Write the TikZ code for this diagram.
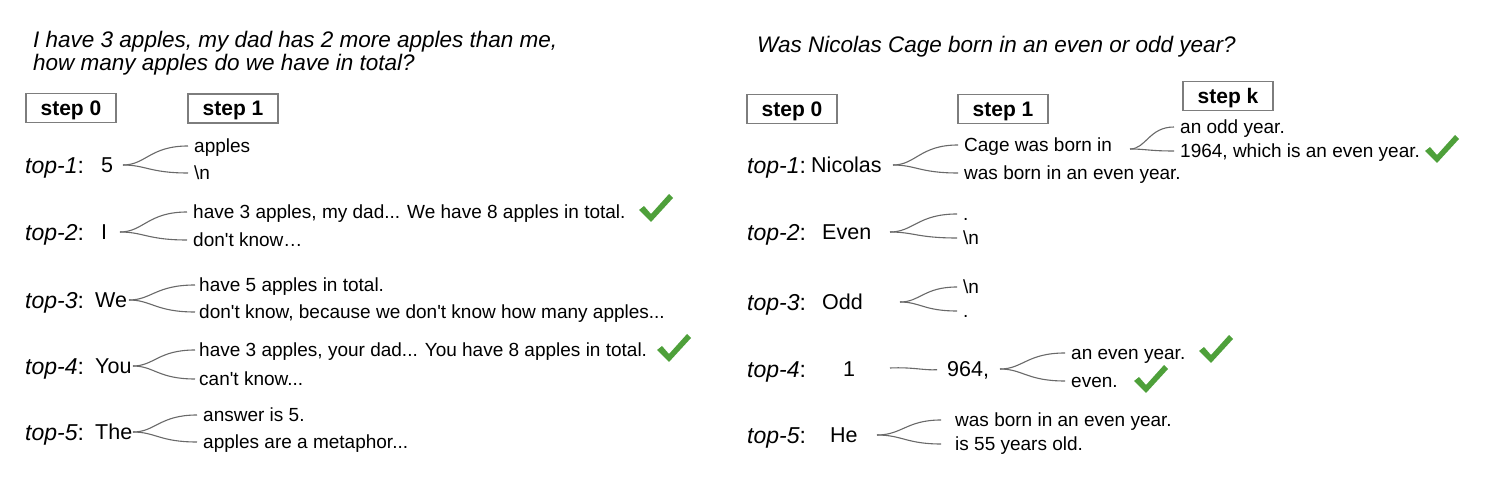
\documentclass[tikz,border=0pt]{standalone}
\usepackage{fontspec}
\setmainfont{Liberation Sans}
\usetikzlibrary{calc}
\definecolor{linegray}{RGB}{105,105,105}
\definecolor{boxgray}{RGB}{125,125,125}
\definecolor{chk}{RGB}{78,160,58}
\begin{document}
\begin{tikzpicture}[x=1pt,y=-1pt,
  txt/.style={anchor=west,inner sep=0pt,font=\fontsize{19}{21}\selectfont,text height=13.6pt,text depth=0pt},
  lab/.style={anchor=west,inner sep=0pt,font=\fontsize{23}{25}\selectfont,text height=16.5pt,text depth=0pt},
  tok/.style={anchor=west,inner sep=0pt,font=\fontsize{21.5}{23}\selectfont,text height=15.4pt,text depth=0pt},
  ques/.style={anchor=west,inner sep=0pt,font=\fontsize{22.5}{24}\selectfont\itshape,text height=16pt,text depth=0pt},
  stepbox/.style={draw=boxgray,line width=1.2pt,minimum width=90pt,minimum height=29pt,inner sep=0pt,font=\fontsize{21}{22}\selectfont\bfseries,text height=15pt,text depth=0pt},
  br/.style={draw=linegray,line width=1.1pt,shorten >=6pt,
    to path={.. controls ($(\tikztostart)!0.32!(\tikztotarget|-\tikztostart)$) and ($(\tikztostart|-\tikztotarget)!0.38!(\tikztotarget)$) .. (\tikztotarget)}},
  chkmark/.pic={\fill[chk] (-17,1) -- (-12,-3) -- (-5,5) -- (13,-15) -- (17,-11) -- (-5,13) -- cycle;}
]
\useasboundingbox (0,0) rectangle (1492,486);

% ---------------- left panel ----------------
\node[ques] (q1) at (33,40) {I have 3 apples, my dad has 2 more apples than me,};
\node[ques] (q2) at (33,63) {how many apples do we have in total?};
\node[stepbox] (ls0) at (71,108) {step 0};
\node[stepbox] (ls1) at (233,108.5) {step 1};

% row 1
\node[lab] (ll1) at (25,165) {\textit{top-1}:};
\node[tok] (lt1) at (101,165) {5};
\coordinate (lj1) at (123,165);
\node[txt] (la1) at (194,146) {apples};
\node[txt] (lb1) at (194,173) {\textbackslash n};
\draw[br] (lj1) to (la1.west);
\draw[br] (lj1) to (lb1.west);

% row 2
\node[lab] (ll2) at (25,232) {\textit{top-2}:};
\node[tok] (lt2) at (101,232) {I};
\coordinate (lj2) at (120,232);
\node[txt] (la2) at (193,212) {have 3 apples, my dad... We have 8 apples in total.};
\node[txt] (lb2) at (193,240) {don\textquotesingle t know…};
\draw[br] (lj2) to (la2.west);
\draw[br] (lj2) to (lb2.west);
\pic at (656,209) {chkmark};

% row 3
\node[lab] (ll3) at (25,300) {\textit{top-3}:};
\node[tok] (lt3) at (95,300) {We};
\coordinate (lj3) at (129,300);
\node[txt] (la3) at (199,285) {have 5 apples in total.};
\node[txt] (lb3) at (199,312) {don\textquotesingle t know, because we don\textquotesingle t know how many apples...};
\draw[br,shorten >=4pt] (lj3) to (la3.west);
\draw[br,shorten >=4pt] (lj3) to (lb3.west);

% row 4
\node[lab] (ll4) at (25,366) {\textit{top-4}:};
\node[tok] (lt4) at (95,366) {You};
\coordinate (lj4) at (133,366);
\node[txt] (la4) at (199,350) {have 3 apples, your dad... You have 8 apples in total.};
\node[txt] (lb4) at (199,379) {can\textquotesingle t know...};
\draw[br,shorten >=4pt] (lj4) to (la4.west);
\draw[br,shorten >=4pt] (lj4) to (lb4.west);
\pic at (674,349) {chkmark};

% row 5
\node[lab] (ll5) at (25,432) {\textit{top-5}:};
\node[tok] (lt5) at (95,432) {The};
\coordinate (lj5) at (133,432);
\node[txt] (la5) at (203,415) {answer is 5.};
\node[txt] (lb5) at (203,442) {apples are a metaphor...};
\draw[br] (lj5) to (la5.west);
\draw[br] (lj5) to (lb5.west);

% ---------------- right panel ----------------
\node[ques] (q3) at (757,45) {Was Nicolas Cage born in an even or odd year?};
\node[stepbox] (rs0) at (792,109) {step 0};
\node[stepbox] (rs1) at (1003,109) {step 1};
\node[stepbox] (rsk) at (1228,96) {step k};

% row 1
\node[lab] (rl1) at (747,165) {\textit{top-1}:};
\node[tok] (rt1) at (811,165) {Nicolas};
\coordinate (rj1) at (893,165);
\node[txt] (ra1) at (964,145) {Cage was born in};
\node[txt] (rb1) at (964,173) {was born in an even year.};
\draw[br] (rj1) to (ra1.west);
\draw[br] (rj1) to (rb1.west);
\coordinate (rk1) at (1130,149);
\node[txt] (rc1) at (1180,127) {an odd year.};
\node[txt] (rd1) at (1180,151) {1964, which is an even year.};
\draw[br] (rk1) to (rc1.west);
\draw[br] (rk1) to (rd1.west);
\pic at (1442,150) {chkmark};

% row 2
\node[lab] (rl2) at (747,232) {\textit{top-2}:};
\node[tok] (rt2) at (822,232) {Even};
\coordinate (rj2) at (890,232);
\node[txt] (ra2) at (963,214) {.};
\node[txt] (rb2) at (963,238) {\textbackslash n};
\draw[br] (rj2) to (ra2.west);
\draw[br] (rj2) to (rb2.west);

% row 3
\node[lab] (rl3) at (747,302) {\textit{top-3}:};
\node[tok] (rt3) at (822,302) {Odd};
\coordinate (rj3) at (900,302);
\node[txt] (ra3) at (963,287) {\textbackslash n};
\node[txt] (rb3) at (963,311) {.};
\draw[br] (rj3) to (ra3.west);
\draw[br] (rj3) to (rb3.west);

% row 4
\node[lab] (rl4) at (747,369) {\textit{top-4}:};
\node[tok] (rt4) at (843,369) {1};
\coordinate (rj4) at (890,368);
\node[tok] (rm4) at (947,369) {964,};
\draw[draw=linegray,line width=1.1pt,shorten >=10pt] (rj4) .. controls ($(rj4)!0.4!(rm4.west)+(0,-1.5)$) and ($(rj4)!0.6!(rm4.west)+(0,2)$) .. (rm4.west);
\coordinate (rk4) at (1000,369);
\node[txt] (ra4) at (1071,353) {an even year.};
\node[txt] (rb4) at (1071,381) {even.};
\draw[br] (rk4) to (ra4.west);
\draw[br] (rk4) to (rb4.west);
\pic at (1216,350) {chkmark};
\pic at (1151,380) {chkmark};

% row 5
\node[lab] (rl5) at (747,435) {\textit{top-5}:};
\node[tok] (rt5) at (830,435) {He};
\coordinate (rj5) at (877,435);
\node[txt] (ra5) at (955,420) {was born in an even year.};
\node[txt] (rb5) at (955,444) {is 55 years old.};
\draw[br,shorten >=14pt] (rj5) to (ra5.west);
\draw[br,shorten >=14pt] (rj5) to (rb5.west);
\end{tikzpicture}
\end{document}
